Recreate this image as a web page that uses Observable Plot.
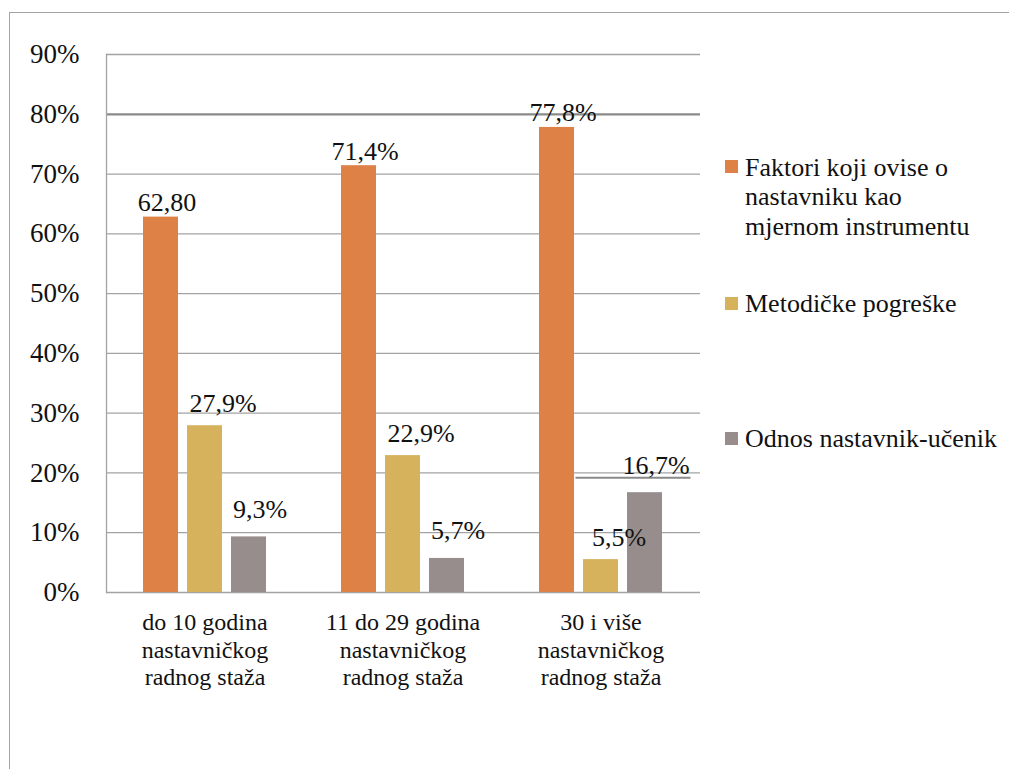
<!DOCTYPE html>
<html>
<head>
<meta charset="utf-8">
<script src="https://cdn.jsdelivr.net/npm/d3@7"></script>
<script src="https://cdn.jsdelivr.net/npm/@observablehq/plot@0.6"></script>
<style>
  html, body { margin: 0; padding: 0; background: #fff; width: 1009px; height: 769px; overflow: hidden; }
  #frame { position: absolute; left: 9px; top: 12px; width: 1200px; height: 1000px; border: 1px solid #a3a3a3; }
  #chart { position: absolute; left: 0; top: 0; }
  #legend { position: absolute; left: 725px; top: 0; font-size: 26px; line-height: 29.5px; color: #111; }
  #legend .sw { position: absolute; left: 0; width: 13px; height: 13px; }
  #legend .tx { position: absolute; left: 20px; white-space: pre; }
</style>
</head>
<body>
<div id="frame"></div>
<div id="chart"></div>
<div id="legend"></div>
<script>
// ---- data ----
const categories = [
  "do 10 godina\nnastavničkog\nradnog staža",
  "11 do 29 godina\nnastavničkog\nradnog staža",
  "30 i više\nnastavničkog\nradnog staža"
];
const seriesNames = [
  "Faktori koji ovise o\nnastavniku kao\nmjernom instrumentu",
  "Metodičke pogreške",
  "Odnos nastavnik-učenik"
];
const faktori = [0.628, 0.714, 0.778];
const metodicke = [0.279, 0.229, 0.055];
const odnos = [0.093, 0.057, 0.167];
const faktoriLabels = ["62,80", "71,4%", "77,8%"];
const metodickeLabels = ["27,9%", "22,9%", "5,5%"];
const odnosLabels = ["9,3%", "5,7%", "16,7%"];
const yTicks = [0, 0.1, 0.2, 0.3, 0.4, 0.5, 0.6, 0.7, 0.8, 0.9];

// ---- styling ----
const colors = ["#DE8146", "#D6B25C", "#978D8D"];
const fontName = ["Liberation", "Serif"].join(" ");
const font = `"${fontName}", monospace`;

const rows = (vals, labels) => categories.map((c, i) => ({c, v: vals[i], t: labels[i]}));
const rF = rows(faktori, faktoriLabels);
const rM = rows(metodicke, metodickeLabels);
const rO = rows(odnos, odnosLabels);

const chart = Plot.plot({
  width: 710,
  height: 700,
  marginLeft: 106,
  marginRight: 10,
  marginTop: 54,
  marginBottom: 108,
  style: {fontSize: "26px", color: "#111", background: "transparent", overflow: "visible"},
  x: {type: "band", domain: categories, paddingInner: 0.8232, paddingOuter: 0.4116, axis: null},
  y: {domain: [0, 0.9], axis: null},
  marks: [
    Plot.ruleY(yTicks.filter(d => d !== 0.8), {stroke: "#a3a3a3", strokeWidth: 1.3}),
    Plot.ruleY([0.8], {stroke: "#8a8a8a", strokeWidth: 2.2}),
    Plot.tickY([{c: categories[2], v: 0.192}], {x: "c", y: "v", stroke: "#8a8a8a", strokeWidth: 2, insetLeft: -7.5, insetRight: -72.5}),
    Plot.frame({anchor: "left", stroke: "#a3a3a3", strokeWidth: 1.3}),
    Plot.axisY(yTicks, {label: null, tickSize: 0, tickPadding: 27, tickFormat: d => Math.round(d * 100) + "%", fontSize: 27}),
    Plot.barY(rF, {x: "c", y: "v", fill: colors[0], dx: -44}),
    Plot.barY(rM, {x: "c", y: "v", fill: colors[1]}),
    Plot.barY(rO, {x: "c", y: "v", fill: colors[2], dx: 44}),
    Plot.text(rF, {x: "c", y: "v", text: "t", lineAnchor: "bottom", dx: -44 + 6, dy: -6, fontSize: 26, fill: "#111"}),
    Plot.text(rM, {x: "c", y: "v", text: "t", lineAnchor: "bottom", dx: 18, dy: -14, fontSize: 26, fill: "#111"}),
    Plot.text(rO, {x: "c", y: "v", text: "t", lineAnchor: "bottom", dx: 44 + 11, dy: -19, fontSize: 26, fill: "#111"}),
    Plot.text(categories, {x: d => d, y: () => 0, text: d => d, lineAnchor: "top", dy: 18, fontSize: 24, lineHeight: 1.15, fill: "#111"})
  ]
});
document.getElementById("chart").appendChild(chart);

// ---- legend ----
const legendTops = [152.5, 288.5, 423.5];
const swatchTops = [160, 297, 432];
const legend = document.getElementById("legend");
seriesNames.forEach((name, i) => {
  const sw = document.createElement("div");
  sw.className = "sw";
  sw.style.top = swatchTops[i] + "px";
  sw.style.background = colors[i];
  const tx = document.createElement("div");
  tx.className = "tx";
  tx.style.top = legendTops[i] + "px";
  tx.textContent = name;
  legend.appendChild(sw);
  legend.appendChild(tx);
});

function applyFont() {
  document.querySelectorAll("svg, svg g, svg text, svg tspan, #legend, #legend div").forEach(el => {
    el.style.setProperty("font-family", font, "important");
  });
}
applyFont();
requestAnimationFrame(applyFont);
setTimeout(applyFont, 50);
</script>
</body>
</html>
